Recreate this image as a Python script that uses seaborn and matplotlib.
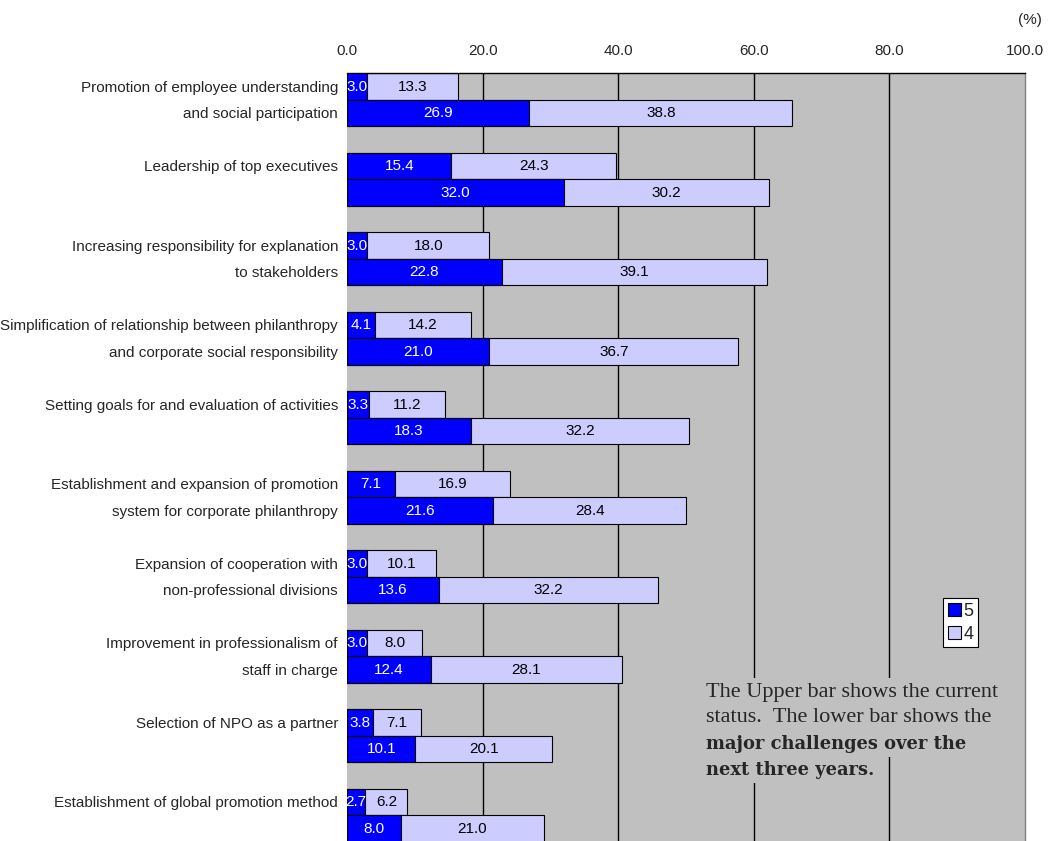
import matplotlib
matplotlib.use("Agg")
import matplotlib.pyplot as plt
import matplotlib.transforms as mtransforms
from matplotlib import font_manager
from matplotlib.patches import Patch
import seaborn as sns
import pandas as pd

# ---------------- data ----------------
labels_line1 = [
    "Promotion of employee understanding",
    "Leadership of top executives",
    "Increasing responsibility for explanation",
    "Simplification of relationship between philanthropy",
    "Setting goals for and evaluation of activities",
    "Establishment and expansion of promotion",
    "Expansion of cooperation with",
    "Improvement in professionalism of",
    "Selection of NPO as a partner",
    "Establishment of global promotion method",
]
labels_line2 = [
    "and social participation",
    "",
    "to stakeholders",
    "and corporate social responsibility",
    "",
    "system for corporate philanthropy",
    "non-professional divisions",
    "staff in charge",
    "",
    "",
]
current_5 = [3.0, 15.4, 3.0, 4.1, 3.3, 7.1, 3.0, 3.0, 3.8, 2.7]
current_4 = [13.3, 24.3, 18.0, 14.2, 11.2, 16.9, 10.1, 8.0, 7.1, 6.2]
future_5 = [26.9, 32.0, 22.8, 21.0, 18.3, 21.6, 13.6, 12.4, 10.1, 8.0]
future_4 = [38.8, 30.2, 39.1, 36.7, 32.2, 28.4, 32.2, 28.1, 20.1, 21.0]
x_ticks = [0, 20, 40, 60, 80, 100]
legend_labels = ["5", "4"]

BLUE = "#0000FF"
LAV = "#CCCCFF"
GRAY = "#C0C0C0"

sns.set_theme(style="white")
avail = {f.name for f in font_manager.fontManager.ttflist}
narrow = "Liberation Sans Narrow" if "Liberation Sans Narrow" in avail else "Liberation Sans"
plt.rcParams["font.family"] = [narrow, "DejaVu Sans"]

rows = []
for i in range(len(labels_line1)):
    rows.append(dict(pos=3 * i, s5=current_5[i], s4=current_4[i]))
    rows.append(dict(pos=3 * i + 1, s5=future_5[i], s4=future_4[i]))
df = pd.DataFrame(rows)
df["total"] = df["s5"] + df["s4"]

fig = plt.figure(figsize=(10.54, 8.41), dpi=100)
W, H = 1054, 841
ax = fig.add_axes([347 / W, 0, (1025 - 347) / W, (H - 73.3) / H])
ax.set_facecolor(GRAY)

for t in x_ticks[1:-1]:
    ax.axvline(t, color="black", lw=1.0, zorder=1)

sns.barplot(data=df, x="total", y="pos", orient="h", native_scale=True, width=1.0,
            color=LAV, edgecolor="black", linewidth=0.8, saturation=1, ax=ax, zorder=2)
sns.barplot(data=df, x="s5", y="pos", orient="h", native_scale=True, width=1.0,
            color=BLUE, edgecolor="black", linewidth=0.8, saturation=1, ax=ax, zorder=3)

fs_val = 11
for _, r in df.iterrows():
    ax.text(r["s5"] / 2, r["pos"], f"{r['s5']:.1f}", ha="center", va="center",
            color="white", fontsize=fs_val, zorder=5)
    ax.text(r["s5"] + r["s4"] / 2, r["pos"], f"{r['s4']:.1f}", ha="center", va="center",
            color="black", fontsize=fs_val, zorder=5)

ax.set_xlim(0, 100)
ax.set_ylim(28.47, -0.5)
ax.set_xlabel("")
ax.set_ylabel("")
ax.xaxis.tick_top()
ax.set_xticks(x_ticks)
ax.set_xticklabels([f"{t:.1f}" for t in x_ticks], fontsize=11)
ax.tick_params(axis="x", length=0, pad=11)
ax.set_yticks([])
for s in ["left", "bottom"]:
    ax.spines[s].set_visible(False)
ax.spines["top"].set_color("black")
ax.spines["top"].set_linewidth(1.0)
ax.spines["right"].set_color("#808080")
ax.spines["right"].set_linewidth(1.0)

trans = mtransforms.blended_transform_factory(
    mtransforms.offset_copy(ax.transAxes, fig=fig, x=-9, y=0, units="dots"), ax.transData)
for i in range(len(labels_line1)):
    ax.text(0, 3 * i + 0.05, labels_line1[i], transform=trans, ha="right", va="center", fontsize=11)
    if labels_line2[i]:
        ax.text(0, 3 * i + 1.05, labels_line2[i], transform=trans, ha="right", va="center", fontsize=11)

fig.text(1030 / W, 1 - 20 / H, "(%)", ha="center", va="center", fontsize=11)

handles = [Patch(facecolor=BLUE, edgecolor="black", lw=0.8),
           Patch(facecolor=LAV, edgecolor="black", lw=0.8)]
leg = ax.legend(handles, legend_labels, loc="upper left",
                bbox_to_anchor=((943 - 347) / (1025 - 347), 1 - (598 - 73.3) / (H - 73.3)),
                frameon=True, fontsize=13, handlelength=0.75, handleheight=0.75,
                handletextpad=0.15, borderpad=0.25, labelspacing=0.35, borderaxespad=0,
                fancybox=False, edgecolor="black", framealpha=1)
leg.get_frame().set_linewidth(0.8)

note_x = 706 / W
ys = [692, 718, 744, 770]
lines = ["The Upper bar shows the current", "status.  The lower bar shows the",
         "major challenges over the", "next three years."]
fams = [["Liberation Serif"], ["Liberation Serif"], ["DejaVu Serif"], ["DejaVu Serif"]]
sizes = [16, 16, 12.9, 12.9]
weights = ["normal", "normal", "bold", "bold"]
for y, ln, fm, sz, w in zip(ys, lines, fams, sizes, weights):
    fig.text(note_x, 1 - y / H, ln, ha="left", va="center", fontsize=sz,
             family=fm, weight=w,
             bbox=dict(facecolor=GRAY, edgecolor="none", pad=3), zorder=10)

fig.savefig("out.png", dpi=100)
